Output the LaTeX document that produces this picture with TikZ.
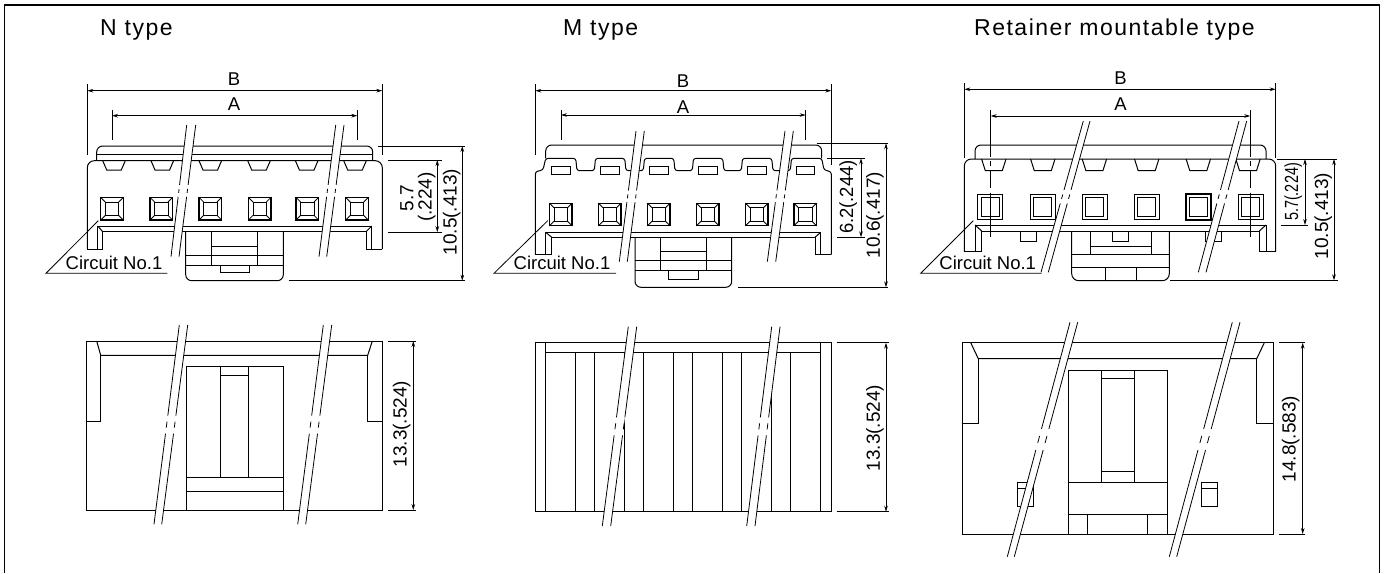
\documentclass[tikz,border=0pt]{standalone}
\usepackage{graphicx}
\usepackage{fontspec}
\setmainfont{Liberation Sans}
\newfontfamily\titlefont[LetterSpace=6.5]{Liberation Sans}
\usetikzlibrary{arrows.meta,calc}
\tikzset{
  part/.style={line width=1pt,black,line join=miter},
  thin part/.style={line width=.8pt,black},
  dimline/.style={line width=.8pt,black},
  dimarrow/.style={line width=.8pt,black,{Stealth[length=6pt,width=3.6pt]}-{Stealth[length=6pt,width=3.6pt]}},
  heading/.style={font=\titlefont\fontsize{23}{25}\selectfont,inner sep=0pt,anchor=base west},
  lbl/.style={font=\fontsize{18.5}{20}\selectfont,inner sep=0pt},
  dimlbl/.style={font=\fontsize{19}{21}\selectfont,inner sep=0pt,rotate=90,align=center},
}
% break band: left line (x1,y1)-(x2,y2), right line (x3,y1)-(x4,y2)
\newcommand\brk[6]{%
  \fill[white] (#1,#2)--(#5,#2)--(#6,#4)--(#3,#4)--cycle;
  \foreach \a/\b in {#1/#3,#5/#6}{
    \coordinate (p) at (\a,#2); \coordinate (q) at (\b,#4);
    \draw[dimline] (p)--($(p)!.455!(q)$);
    \draw[dimline] ($(p)!.485!(q)$)--($(p)!.515!(q)$);
    \draw[dimline] ($(p)!.545!(q)$)--(q);
  }%
}
% connector socket: centre, half size, inner half size
\newcommand\sock[4]{%
  \draw[part,line width=1.3pt] (#1-#3,#2-#3) rectangle (#1+#3,#2+#3);
  \draw[thin part] (#1-#4,#2-#4) rectangle (#1+#4,#2+#4);
  \draw[thin part] (#1-#3,#2-#3)--(#1-#4,#2-#4) (#1+#3,#2-#3)--(#1+#4,#2-#4)
     (#1-#3,#2+#3)--(#1-#4,#2+#4) (#1+#3,#2+#3)--(#1+#4,#2+#4);
}
\newcommand\rsock[1]{%
  \draw[part,line width=1.3pt] (#1-12.5,194.3) rectangle (#1+12.5,219.5);
  \draw[thin part] (#1-9,197.8) rectangle (#1+9,216);
}
\newcommand\trap[5]{\draw[part] (#1-#3,#2)--(#1-#4,#5)--(#1+#4,#5)--(#1+#3,#2);}
\newcommand\vdim[3]{%  x, ytop, ybottom
  \draw[dimarrow] (#1,#2)--(#1,#3);
}
\begin{document}
\begin{tikzpicture}[x=1pt,y=-1pt]
\useasboundingbox (0,0) rectangle (1386,573);
\fill[white] (0,0) rectangle (1386,573);
% frame
\draw[line width=1.2pt] (4.5,573)--(4.5,5)--(1379.3,5)--(1379.3,573);

% ---------- headings
\node[heading] (t1) at (100,35) {N type};
\node[heading] (t2) at (563,35) {M type};
\node[heading] (t3) at (974,35) {Retainer mountable type};

% ========== N type, front
\draw[part,rounded corners=6pt] (96.7,160.7)--(96.7,146)--(372.7,146)--(372.7,160.7);
\draw[part] (96.7,154)--(372.7,154);
\draw[part,rounded corners=7pt] (87.3,249)--(87.3,160.7)--(382.3,160.7)--(382.3,249);
\draw[part] (87.3,249)--(102.7,249)--(102.7,231.7)--(366,231.7)--(366,249)--(382.3,249);
\draw[part] (97.7,249)--(97.7,226)--(371.7,226)--(371.7,249);
\draw[part] (97.7,226)--(102.7,231.7) (371.7,226)--(366,231.7);
\foreach \c in {114,162.3,210.3,259,306.7,355}{\trap{\c}{160.7}{11.3}{7.3}{170}}
\foreach \c in {112,161.3,210.3,259.7,307.3,357}{\sock{\c}{208.7}{11.3}{6.7}}
\draw[part,rounded corners=6pt] (185.7,231.7)--(185.7,280.7)--(283.3,280.7)--(283.3,231.7);
\draw[part] (211.7,231.7)--(211.7,265.7) (257.7,231.7)--(257.7,265.7)
  (211.7,246)--(257.7,246) (185.7,255)--(283.3,255) (185.7,265.7)--(283.3,265.7);
\draw[part] (220,265.7) rectangle (249.3,272.7);
\brk{186.7}{125}{171}{256.7}{195.7}{179}
\brk{335.7}{125}{319}{256.7}{344}{326.7}
% dims
\node[lbl] (nb) at (234,79.3) {B};
\node[lbl] (na) at (234,104.5) {A};
\draw[dimline] (87.3,84)--(87.3,155) (382.3,84)--(382.3,155);
\draw[dimline] (112,110)--(112,140) (357.3,110)--(357.3,140);
\draw[dimarrow] (87.3,90.7)--(382.3,90.7);
\draw[dimarrow] (112,115.7)--(357.3,115.7);
\draw[dimline] (388,160)--(441.7,160) (388,232)--(441.7,232);
\vdim{437.3}{160}{232}
\draw[dimline] (378,146)--(465,146) (289,280.7)--(465,280.7);
\vdim{462.3}{146}{280.7}
\node[dimlbl] (n57) at (407,198) {5.7};
\node[dimlbl] (n224) at (426.7,197) {(.224)};
\node[dimlbl] (n105) at (451.7,212) {10.5(.413)};
\draw[dimline] (98.3,220.7)--(46,273.3)--(167.3,273.3);
\node[lbl] (nc) at (114,263) {Circuit No.1};

% ========== M type, front
\draw[part,rounded corners=6pt] (545.7,158.3)--(545.7,145)--(821.7,145)--(821.7,158.3);
\draw[part,rounded corners=2.5pt] (535.3,254.7)--(535.3,171.7)--(543,170)--(545.7,158.3)--
  (575.7,158.3)--(577,170.7)--(594.3,170.7)--(595.5,158.3)--
  (624.7,158.3)--(626,170.7)--(643.3,170.7)--(644.5,158.3)--
  (673.7,158.3)--(675,170.7)--(692.3,170.7)--(693.5,158.3)--
  (722.7,158.3)--(724,170.7)--(741.3,170.7)--(742.5,158.3)--
  (771.7,158.3)--(773,170.7)--(790.3,170.7)--(791.5,158.3)--
  (821.7,158.3)--(824,170)--(831.3,171.7)--(831.3,254.7);
\foreach \c in {560.7,609.7,658.7,707.7,756.7,805.3}{
  \draw[part] (\c-9.3,166.7) rectangle (\c+9.3,174.7);
  \sock{\c}{214.5}{11.3}{6.7}}
\draw[part] (535.3,254.7)--(551.7,254.7)--(551.7,237.3)--(815,237.3)--(815,254.7)--(831.3,254.7);
\draw[part] (545.7,254.7)--(545.7,232.3)--(820.7,232.3)--(820.7,254.7);
\draw[part] (545.7,232.3)--(551.7,237.3) (820.7,232.3)--(815,237.3);
\draw[part,rounded corners=6pt] (635,237.3)--(635,287.3)--(731.7,287.3)--(731.7,237.3);
\draw[part] (660.3,237.3)--(660.3,270.7) (706.3,237.3)--(706.3,270.7)
  (660.3,251.7)--(706.3,251.7) (635,260.7)--(731.7,260.7) (635,270.7)--(731.7,270.7);
\draw[part] (668.3,270.7) rectangle (698.3,279);
\brk{636}{131}{619.3}{261.7}{644.3}{627.3}
\brk{785}{131}{767.3}{261.7}{793.3}{775.7}
\node[lbl] (mb) at (683,81.5) {B};
\node[lbl] (ma) at (683,107) {A};
\draw[dimline] (535.3,84)--(535.3,155) (831.3,84)--(831.3,165);
\draw[dimline] (561,110)--(561,140) (805.7,110)--(805.7,140);
\draw[dimarrow] (535.3,90.7)--(831.3,90.7);
\draw[dimarrow] (561,115)--(805.7,115);
\draw[dimline] (826.7,158.3)--(865,158.3) (837.3,237.3)--(865,237.3);
\vdim{861}{158.3}{237.3}
\draw[dimline] (817.3,143.3)--(888.3,143.3) (738.3,287.3)--(888.3,287.3);
\vdim{886}{143.3}{287.3}
\node[dimlbl] (m62) at (848.3,197) {\scalebox{.97}[1]{6.2(.244)}};
\node[dimlbl] (m106) at (875,215) {10.6(.417)};
\draw[dimline] (547.7,220.7)--(494,273.3)--(616,273.3);
\node[lbl] (mc) at (562,263.3) {Circuit No.1};

% ========== Retainer, front
\draw[part,rounded corners=6pt] (975,159)--(975,145)--(1266,145)--(1266,159);
\draw[part,rounded corners=7pt] (964.3,251.7)--(964.3,159)--(1275.7,159)--(1275.7,251.7);
\foreach \c in {993.8,1042.8,1094.4,1146.7,1198.3,1248}{\trap{\c}{159}{12.2}{8.5}{170.7}}
\foreach \c in {990.3,1042.7,1094.7,1146.7,1198.7,1250.7}{\rsock{\c}}
\draw[line width=2pt] (1186.2,194.3) rectangle (1211.2,219.5);
\draw[part] (964.3,251.7)--(981.7,251.7)--(981.7,231)--(1259.3,231)--(1259.3,251.7)--(1275.7,251.7);
\draw[part] (975,251.7)--(975,225)--(1266,225)--(1266,251.7);
\draw[part] (975,225)--(981.7,231) (1266,225)--(1259.3,231);
\foreach \c in {1020.7,1112.7,1205}{\draw[part] (\c,231)--(\c,241.7)--(\c+16,241.7)--(\c+16,231);}
\draw[part,rounded corners=7pt] (1071.7,231)--(1071.7,280.7)--(1169.3,280.7)--(1169.3,231);
\draw[part] (1090.3,231)--(1090.3,254.3) (1151,231)--(1151,254.3)
  (1090.3,246.7)--(1151,246.7) (1071.7,254.3)--(1169.3,254.3) (1071.7,267.3)--(1169.3,267.3)
  (1105,267.3)--(1105,280.7) (1136.7,267.3)--(1136.7,280.7);
\brk{1083.3}{121}{1041}{272.3}{1090}{1048.3}
\brk{1239}{121}{1198.3}{272.3}{1246.7}{1206}
\node[lbl] (rb) at (1120.5,78) {B};
\node[lbl] (ra) at (1120.5,104) {A};
\draw[dimline] (964.3,83)--(964.3,158) (1275.7,83)--(1275.7,158);
\foreach \x in {990.7,1250.3}{
  \draw[dimline] (\x,110)--(\x,157);
  \draw[dimline] (\x,161)--(\x,166) (\x,171)--(\x,188) (\x,193)--(\x,237);}
\draw[dimarrow] (964.3,89.3)--(1275.7,89.3);
\draw[dimarrow] (990.7,116)--(1250.3,116);
\draw[dimline] (1276.7,159)--(1308,159) (1280.7,225)--(1308,225);
\vdim{1305}{159}{225}
\draw[dimline] (1276.7,159)--(1337,159) (1170,280.3)--(1338,280.3);
\vdim{1334}{159}{280.3}
\node[dimlbl] (r57) at (1293.3,192) {\scalebox{.76}[1]{5.7(.224)}};
\node[dimlbl] (r105) at (1323.3,216) {10.5(.413)};
\draw[dimline] (973.3,220.7)--(920.7,273.3)--(1041.7,273.3);
\node[lbl] (rc) at (987.7,263.3) {Circuit No.1};

% ========== N type, bottom
\draw[part] (86.7,341) rectangle (382.7,510);
\draw[part] (96.7,341)--(100.7,355.3)--(367.7,355.3)--(372.3,341);
\draw[part] (100.7,355.3)--(100.7,421)--(86.7,421) (367.7,355.3)--(367.7,421)--(382.7,421);
\draw[part] (186,366.7) rectangle (283.3,510);
\draw[part] (220.7,366.7)--(220.7,477.3) (248.3,366.7)--(248.3,477.3)
  (220.7,375)--(248.3,375) (186,477.3)--(283.3,477.3) (186,491.7)--(283.3,491.7);
\brk{179.3}{325}{154}{524.3}{187.7}{161.7}
\brk{323.3}{325}{297.7}{524.3}{331.7}{305.7}
\draw[dimline] (388.3,341)--(415.7,341) (388.3,510)--(415.7,510);
\vdim{413.3}{341}{510}
\node[dimlbl] (nh) at (401.7,424) {13.3(.524)};

% ========== M type, bottom
\draw[part] (535,342.7) rectangle (831.7,511.7);
\draw[part] (545.3,342.7)--(545.3,511.7) (820.7,342.7)--(820.7,511.7) (545.3,352.7)--(820.7,352.7);
\foreach \x in {575.7,594.3,624.7,643.3,673.7,692.3,722.7,741.3,771.7,790.3}{\draw[part] (\x,352.7)--(\x,511.7);}
\brk{628.3}{326.7}{602.3}{526}{636.7}{610.7}
\brk{771.7}{326.7}{746.7}{526}{780}{755}
\draw[dimline] (836.7,342.7)--(889,342.7) (836.7,511.7)--(889,511.7);
\vdim{886}{342.7}{511.7}
\node[dimlbl] (mh) at (875,428) {13.3(.524)};

% ========== Retainer, bottom
\draw[part] (962,342.7) rectangle (1273.3,534);
\draw[part] (970.7,342.7)--(978.3,358.7)--(1256.7,358.7)--(1264.3,342.7);
\draw[part] (978.3,358.7)--(978.3,423.3)--(962,423.3) (1256.7,358.7)--(1256.7,423.3)--(1273.3,423.3);
\draw[part] (1068.7,370) rectangle (1167.3,534);
\draw[part] (1101.3,370)--(1101.3,482.3) (1134.3,370)--(1134.3,482.3)
  (1101.3,378)--(1134.3,378) (1101.3,471)--(1134.3,471) (1068.7,482.3)--(1167.3,482.3)
  (1068.7,514.3)--(1167.3,514.3) (1087.7,514.3)--(1087.7,534) (1147.7,514.3)--(1147.7,534);
\draw[part] (1017.7,482) rectangle (1033.7,506.7) (1017.7,488.3)--(1033.7,488.3);
\draw[part] (1201.3,482) rectangle (1217.7,506.7) (1201.3,488.3)--(1217.7,488.3);
\brk{1070}{322.3}{1007.3}{556.7}{1077.7}{1014.3}
\brk{1232.3}{322.3}{1169.3}{556.7}{1240}{1176.7}
\draw[dimline] (1279,342.7)--(1305,342.7) (1279,534)--(1305,534);
\vdim{1302.7}{342.7}{534}
\node[dimlbl] (rh) at (1290.7,439) {14.8(.583)};
\end{tikzpicture}
\end{document}
